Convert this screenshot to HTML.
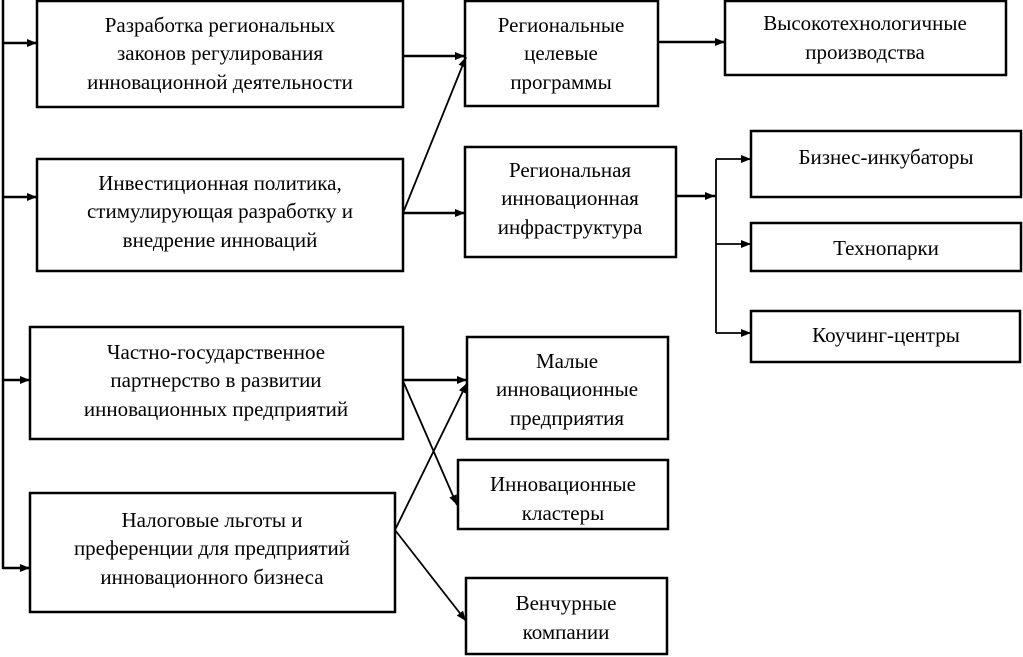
<!DOCTYPE html>
<html><head><meta charset="utf-8"><style>
html,body{margin:0;padding:0;background:#fff}
svg{display:block}
text{font-family:"Liberation Serif",serif;font-size:21px;fill:#000;text-anchor:middle}
</style></head><body>
<svg width="1023" height="657" viewBox="0 0 1023 657" xmlns="http://www.w3.org/2000/svg">
<defs>
<marker id="a" markerWidth="10" markerHeight="8" refX="10" refY="4" orient="auto" markerUnits="userSpaceOnUse">
<path d="M0,0 L10,4 L0,8 z" fill="#000"/></marker>
</defs>
<g fill="none" stroke="#000" stroke-width="2.5">
<rect x="37" y="1" width="366" height="106"/>
<rect x="37" y="159" width="366" height="112"/>
<rect x="30" y="327" width="373" height="112"/>
<rect x="30" y="493" width="365" height="119"/>
<rect x="465" y="1" width="193" height="105"/>
<rect x="465" y="147" width="211" height="110"/>
<rect x="467" y="337" width="201" height="102"/>
<rect x="458" y="460" width="210" height="69"/>
<rect x="466" y="578" width="201" height="76"/>
<rect x="725" y="1" width="281" height="74"/>
<rect x="751" y="131" width="270" height="66"/>
<rect x="751" y="223" width="270" height="48"/>
<rect x="751" y="311" width="269" height="51"/>
</g>
<g stroke="#000" stroke-width="2.5" fill="none">
<line x1="3" y1="0" x2="3" y2="569"/>
<line x1="3" y1="43" x2="37" y2="43" marker-end="url(#a)"/>
<line x1="3" y1="197" x2="37" y2="197" marker-end="url(#a)"/>
<line x1="3" y1="380" x2="30" y2="380" marker-end="url(#a)"/>
<line x1="3" y1="568" x2="30" y2="568" marker-end="url(#a)"/>
<line x1="403" y1="56" x2="465" y2="56" marker-end="url(#a)"/>
<line x1="403" y1="213" x2="465" y2="213" marker-end="url(#a)"/>
<line x1="658" y1="42" x2="725" y2="42" marker-end="url(#a)"/>
<line x1="676" y1="196" x2="715" y2="196" marker-end="url(#a)"/>
<line x1="403" y1="380" x2="467" y2="380" marker-end="url(#a)"/>
</g>
<g stroke="#000" stroke-width="1.8" fill="none">
<line x1="403" y1="213" x2="466" y2="57" marker-end="url(#a)"/>
<line x1="716" y1="159" x2="716" y2="333"/>
<line x1="716" y1="159" x2="751" y2="159" marker-end="url(#a)"/>
<line x1="716" y1="244" x2="751" y2="244" marker-end="url(#a)"/>
<line x1="716" y1="333" x2="751" y2="333" marker-end="url(#a)"/>
<line x1="403" y1="381" x2="457" y2="505" marker-end="url(#a)"/>
<line x1="395" y1="530" x2="467" y2="383" marker-end="url(#a)"/>
<line x1="395" y1="530" x2="466" y2="621" marker-end="url(#a)"/>
</g>
<text x="220" y="32">Разработка региональных</text>
<text x="220" y="60">законов регулирования</text>
<text x="220" y="89">инновационной  деятельности</text>
<text x="220" y="190">Инвестиционная политика,</text>
<text x="220" y="218">стимулирующая разработку и</text>
<text x="220" y="247">внедрение инноваций</text>
<text x="216" y="359">Частно-государственное</text>
<text x="216" y="387">партнерство в развитии</text>
<text x="216" y="416">инновационных предприятий</text>
<text x="212" y="527">Налоговые льготы и</text>
<text x="212" y="555">преференции для предприятий</text>
<text x="212" y="584">инновационного бизнеса</text>
<text x="561" y="32">Региональные</text>
<text x="561" y="60">целевые</text>
<text x="561" y="89">программы</text>
<text x="570" y="177">Региональная</text>
<text x="570" y="205">инновационная</text>
<text x="570" y="234">инфраструктура</text>
<text x="567" y="368">Малые</text>
<text x="567" y="396">инновационные</text>
<text x="567" y="425">предприятия</text>
<text x="563" y="491">Инновационные</text>
<text x="563" y="520">кластеры</text>
<text x="566" y="610">Венчурные</text>
<text x="566" y="639">компании</text>
<text x="865" y="30">Высокотехнологичные</text>
<text x="865" y="59">производства</text>
<text x="886" y="164">Бизнес-инкубаторы</text>
<text x="886" y="255">Технопарки</text>
<text x="886" y="342">Коучинг-центры</text>
</svg>
</body></html>
